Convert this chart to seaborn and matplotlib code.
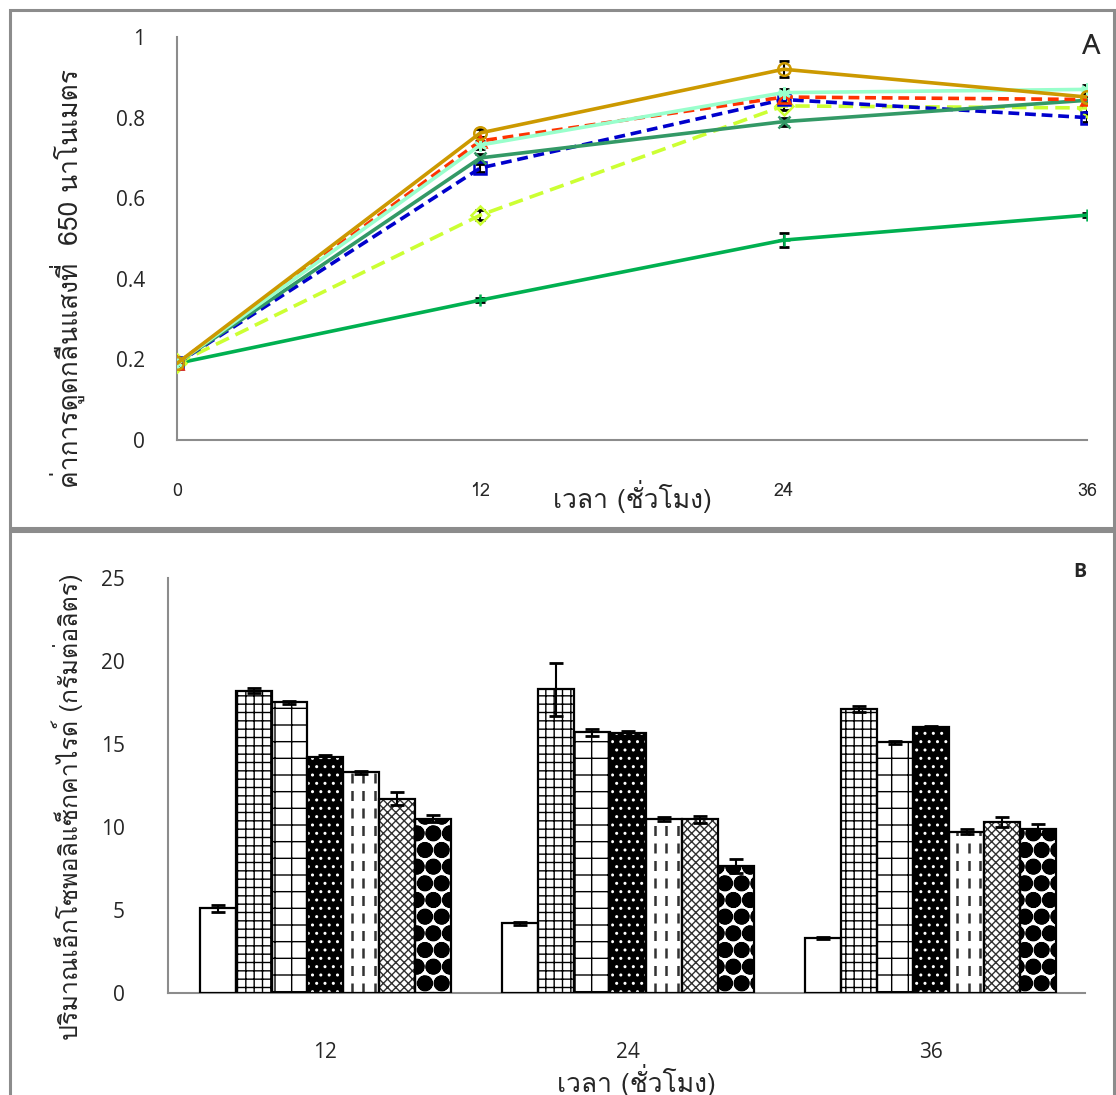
import numpy as np
import pandas as pd
import matplotlib
matplotlib.use("Agg")
import matplotlib.pyplot as plt
from matplotlib.patches import Rectangle
from matplotlib import font_manager
from matplotlib.ft2font import FT2Font
import seaborn as sns

# ---------------- data ----------------
hours = [0, 12, 24, 36]

od_gold = [0.19, 0.762, 0.920, 0.851]
od_red = [0.19, 0.742, 0.851, 0.845]
od_aqua = [0.19, 0.732, 0.862, 0.870]
od_seagreen = [0.19, 0.700, 0.790, 0.843]
od_blue = [0.19, 0.675, 0.845, 0.800]
od_lime = [0.19, 0.558, 0.829, 0.824]
od_green = [0.19, 0.347, 0.496, 0.558]

od_err_gold = [0.005, 0.01, 0.02, 0.01]
od_err_red = [0.005, 0.01, 0.01, 0.01]
od_err_aqua = [0.005, 0.01, 0.01, 0.01]
od_err_seagreen = [0.005, 0.01, 0.01, 0.005]
od_err_blue = [0.005, 0.01, 0.01, 0.01]
od_err_lime = [0.005, 0.012, 0.01, 0.01]
od_err_green = [0.005, 0.005, 0.018, 0.005]

time_labels = ["12", "24", "36"]
treatments = ["T1", "T2", "T3", "T4", "T5", "T6", "T7"]

eps_12 = [5.1, 18.2, 17.5, 14.2, 13.3, 11.7, 10.5]
eps_24 = [4.2, 18.3, 15.7, 15.65, 10.47, 10.45, 7.65]
eps_36 = [3.3, 17.1, 15.1, 16.05, 9.7, 10.3, 9.9]

eps_err_12 = [0.2, 0.15, 0.1, 0.15, 0.1, 0.4, 0.2]
eps_err_24 = [0.1, 1.6, 0.2, 0.15, 0.1, 0.2, 0.4]
eps_err_36 = [0.08, 0.2, 0.1, 0.05, 0.15, 0.3, 0.3]

od_ylabel = "ค่าการดูดกลืนแสงที่  650 นาโนเมตร"
eps_ylabel = "ปริมาณเอ็กโซพอลิแซ็กคาไรด์ (กรัมต่อลิตร)"
time_xlabel = "เวลา (ชั่วโมง)"


def find_thai_family():
    seen = set()
    for f in font_manager.fontManager.ttflist:
        if f.name in seen:
            continue
        seen.add(f.name)
        try:
            ft = FT2Font(f.fname)
            if ft.get_char_index(0x0E01) and ft.get_char_index(0x0E49):
                return f.name
        except Exception:
            pass
    return "DejaVu Sans"


sns.set_theme(style="white")
thai = find_thai_family()
plt.rcParams["font.family"] = [thai, "DejaVu Sans"]
plt.rcParams["hatch.linewidth"] = 1.0

fig = plt.figure(figsize=(11.16, 10.95), dpi=100)

# panel frames
frame_kw = dict(transform=fig.transFigure, fill=False, ec="#8c8c8c", lw=2.2)
fig.patches.append(Rectangle((0.009, 0.5178), 0.989, 0.4731, **frame_kw))
fig.patches.append(Rectangle((0.009, -0.02), 0.989, 0.535, **frame_kw))

axis_gray = "#8c8c8c"
tick_color = "#262626"
num_font = ["Open Sans", "DejaVu Sans"]

# ---------------- panel A ----------------
ax1 = fig.add_axes([0.1586, 0.5982, 0.8154, 0.368])
series = [
    (od_green, od_err_green, "#00B050", "-", "+"),
    (od_lime, od_err_lime, "#CCFF33", (0, (4, 2)), "D"),
    (od_blue, od_err_blue, "#0000CC", (0, (3, 1.6)), "s"),
    (od_seagreen, od_err_seagreen, "#339966", "-", "x"),
    (od_red, od_err_red, "#FF3300", (0, (3, 1.6)), "^"),
    (od_aqua, od_err_aqua, "#99FFCC", "-", (6, 2, 0)),
    (od_gold, od_err_gold, "#CC9900", "-", "o"),
]
for vals, errs, col, ls, mk in series:
    ax1.errorbar(hours, vals, yerr=errs, fmt="none", ecolor="black",
                 elinewidth=1.5, capsize=3.5, capthick=2, zorder=2)
    sns.lineplot(x=hours, y=vals, ax=ax1, color=col, linestyle=ls, lw=2.6,
                 marker=mk, markersize=9, markerfacecolor="none",
                 markeredgecolor=col, markeredgewidth=1.8, errorbar=None,
                 zorder=3)

ax1.set_xlim(0, 36)
ax1.set_ylim(0, 1)
ax1.set_xticks(hours)
ax1.set_xticklabels([str(h) for h in hours], fontsize=13)
ax1.set_yticks([0, 0.2, 0.4, 0.6, 0.8, 1.0])
ax1.set_yticklabels(["0", "0.2", "0.4", "0.6", "0.8", "1"], fontsize=15,
                    family=num_font)
ax1.tick_params(axis="x", length=0, pad=30, colors=tick_color)
ax1.tick_params(axis="y", length=7, width=1.5, color=axis_gray, pad=16,
                labelcolor=tick_color)
for s in ["top", "right"]:
    ax1.spines[s].set_visible(False)
for s in ["left", "bottom"]:
    ax1.spines[s].set_color(axis_gray)
    ax1.spines[s].set_linewidth(1.5)
ax1.set_xlabel("")
ax1.set_ylabel("")
ax1.text(-0.12, 0.40, od_ylabel, transform=ax1.transAxes, rotation=90,
         ha="center", va="center", fontsize=19, color=tick_color)
ax1.text(0.5, -0.141, time_xlabel, transform=ax1.transAxes, ha="center",
         va="center", fontsize=19, color=tick_color)
ax1.text(1.005, 0.975, "A", transform=ax1.transAxes, ha="center",
         va="center", fontsize=20, color=tick_color)

# ---------------- panel B ----------------
ax2 = fig.add_axes([0.1505, 0.0932, 0.8217, 0.379])
df = pd.DataFrame({
    "time": np.repeat(time_labels, len(treatments)),
    "treatment": treatments * len(time_labels),
    "eps": eps_12 + eps_24 + eps_36,
})
errs_by_time = [eps_err_12, eps_err_24, eps_err_36]

sns.barplot(data=df, x="time", y="eps", hue="treatment", order=time_labels,
            hue_order=treatments, palette=["white"] * len(treatments),
            errorbar=None, width=0.83, legend=False, ax=ax2, saturation=1)
bar_containers = list(ax2.containers)

# fill, hatch, hatch colour, hatch line width per treatment
styles = [
    ("white", "", "black", 1.0),
    ("white", "++", "black", 1.0),
    ("white", "+", "black", 1.0),
    ("black", "..", "white", 1.0),
    ("white", "", "black", 1.0),
    ("white", "xxxx", "#303030", 1.0),
    ("white", "O.", "black", 3.2),
]
for i, cont in enumerate(bar_containers):
    fc, hatch, hc, hlw = styles[i]
    for j, p in enumerate(cont.patches):
        p.set_facecolor(fc)
        p.set_hatch(hatch)
        p.set_edgecolor(hc)
        p.set_linewidth(0)
        try:
            p.set_hatch_linewidth(hlw)
        except AttributeError:
            pass
        x0, w, h = p.get_x(), p.get_width(), p.get_height()
        if i == 4:
            # dashed vertical stripes inside the bar
            ax2.vlines([x0 + w * f for f in (0.24, 0.56, 0.88)], 0, h,
                       colors="#333333", linestyles=(0, (4, 3)), lw=1.8,
                       zorder=2.5)
        ax2.add_patch(Rectangle((x0, 0), w, h, fill=False, ec="black",
                                lw=1.6, zorder=3))
        ax2.errorbar(x0 + w / 2, h, yerr=errs_by_time[j][i], fmt="none",
                     ecolor="black", elinewidth=1.5, capsize=5, capthick=2,
                     zorder=4)

ax2.set_xlim(-0.52, 2.51)
ax2.set_ylim(0, 25)
ax2.set_yticks([0, 5, 10, 15, 20, 25])
ax2.set_yticklabels(["0", "5", "10", "15", "20", "25"], fontsize=15,
                    family=num_font)
ax2.set_xticks([0, 1, 2])
ax2.set_xticklabels(time_labels, fontsize=15, family=num_font)
ax2.tick_params(axis="x", length=5, width=1.2, color=axis_gray, pad=30,
                labelcolor=tick_color)
ax2.tick_params(axis="y", length=7, width=1.5, color=axis_gray, pad=24,
                labelcolor=tick_color)
for s in ["top", "right"]:
    ax2.spines[s].set_visible(False)
for s in ["left", "bottom"]:
    ax2.spines[s].set_color(axis_gray)
    ax2.spines[s].set_linewidth(1.5)
ax2.set_xlabel("")
ax2.set_ylabel("")
ax2.text(-0.110, 0.448, eps_ylabel, transform=ax2.transAxes, rotation=90,
         ha="center", va="center", fontsize=18, color=tick_color)
ax2.text(0.511, -0.21, time_xlabel, transform=ax2.transAxes, ha="center",
         va="center", fontsize=19, color=tick_color)
ax2.text(0.9945, 1.014, "B", transform=ax2.transAxes, ha="center",
         va="center", fontsize=14, fontweight="bold", color=tick_color,
         family=num_font)

fig.savefig("out.png", dpi=100)
